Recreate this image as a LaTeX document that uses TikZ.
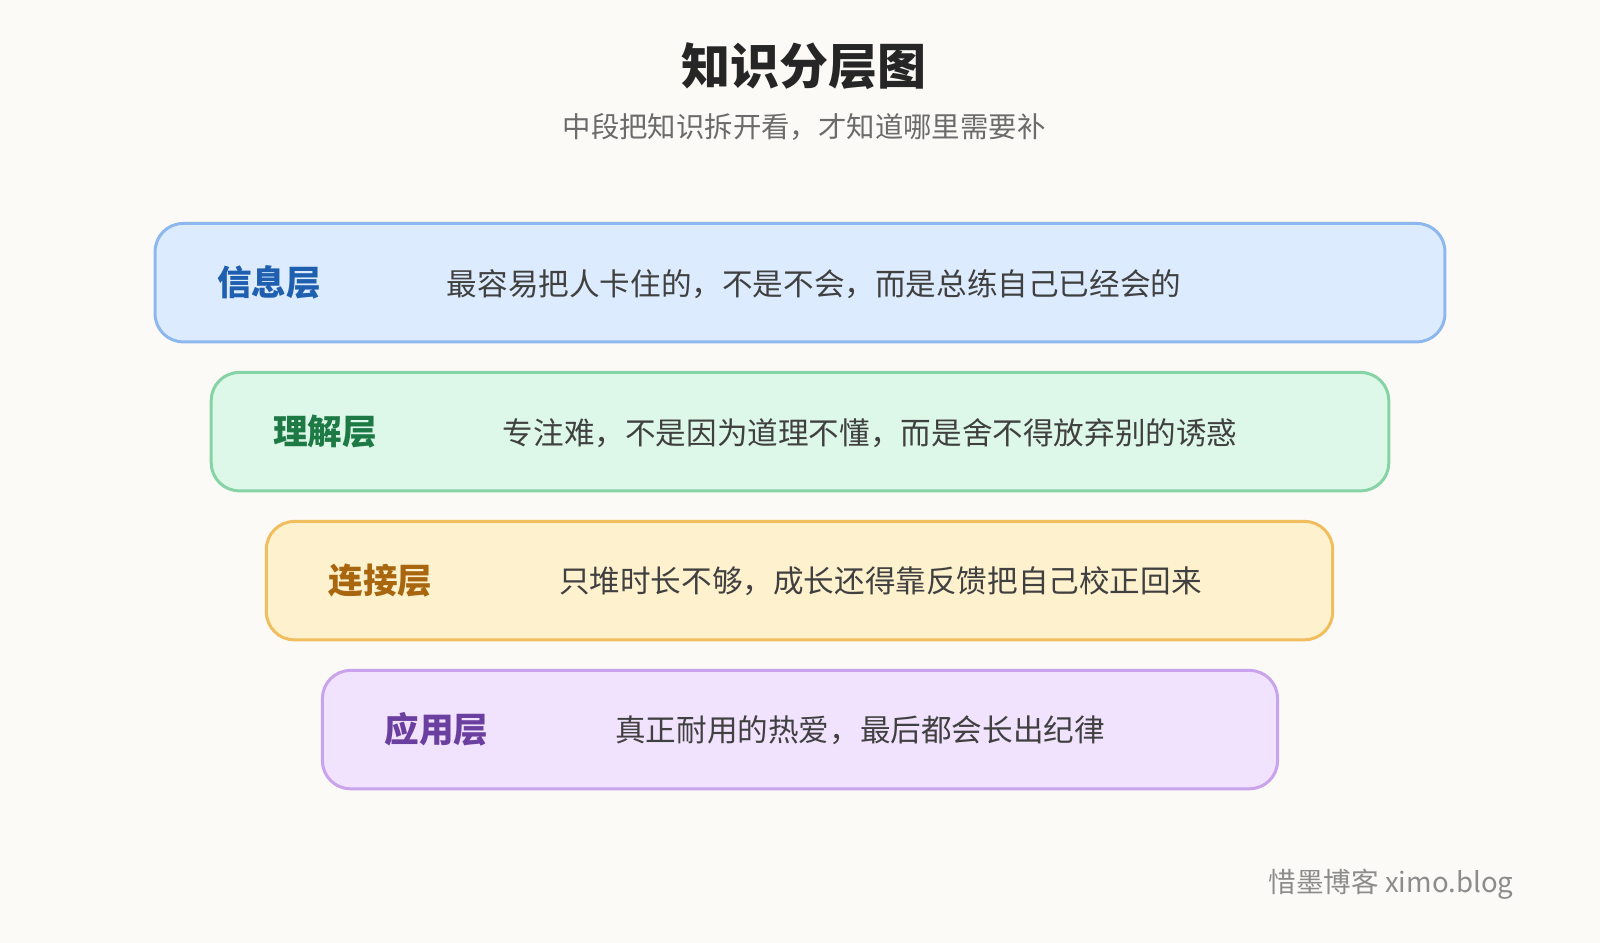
\documentclass[tikz,border=0pt]{standalone}
\usepackage{fontspec}
\setmainfont{Noto Sans CJK SC}
\begin{document}
\begin{tikzpicture}[x=0.5102pt,y=-0.5102pt,
  layer/.style={draw, line width=1.5pt, rounded corners=14pt},
  lab/.style={anchor=west, font=\fontsize{17.3}{20}\selectfont\bfseries},
  txt/.style={anchor=west, text=black!75, font=\fontsize{15.3}{18}\selectfont}]
\definecolor{bg}{HTML}{FBFAF6}
\definecolor{fa}{HTML}{DCEBFD}\definecolor{da}{HTML}{8DB8EE}\definecolor{ta}{HTML}{1F5FAF}
\definecolor{fb}{HTML}{DDF7E8}\definecolor{db}{HTML}{86D3A6}\definecolor{tb}{HTML}{1E7A45}
\definecolor{fc}{HTML}{FEF1CE}\definecolor{dc}{HTML}{F0BE5E}\definecolor{tc}{HTML}{A8660F}
\definecolor{fd}{HTML}{F1E3FE}\definecolor{dd}{HTML}{C9A4EC}\definecolor{td}{HTML}{6B3FA0}
\fill[bg] (0,0) rectangle (1568,924);
\useasboundingbox (0,0) rectangle (1568,924);
\node[font=\fontsize{24.5}{28}\selectfont\bfseries, text=black!85] (title) at (788,65) {知识分层图};
\node[font=\fontsize{14.2}{17}\selectfont, text=black!58] (sub) at (788,124) {中段把知识拆开看，才知道哪里需要补};
\draw[layer, fill=fa, draw=da] (152,219) rectangle (1416,335);
\node[lab, text=ta] (l1) at (206,277) {信息层};
\node[txt] (t1) at (431,278) {最容易把人卡住的，不是不会，而是总练自己已经会的};
\draw[layer, fill=fb, draw=db] (207,365) rectangle (1361,481);
\node[lab, text=tb] (l2) at (261,423) {理解层};
\node[txt] (t2) at (486,424) {专注难，不是因为道理不懂，而是舍不得放弃别的诱惑};
\draw[layer, fill=fc, draw=dc] (261,511) rectangle (1306,627);
\node[lab, text=tc] (l3) at (315,569) {连接层};
\node[txt] (t3) at (541,570) {只堆时长不够，成长还得靠反馈把自己校正回来};
\draw[layer, fill=fd, draw=dd] (316,657) rectangle (1252,773);
\node[lab, text=td] (l4) at (370,715) {应用层};
\node[txt] (t4) at (596,716) {真正耐用的热爱，最后都会长出纪律};
\node[anchor=east, text=black!45, font=\fontsize{13.8}{16}\selectfont] (wm) at (1490,867) {惜墨博客 ximo.blog};
\end{tikzpicture}
\end{document}
